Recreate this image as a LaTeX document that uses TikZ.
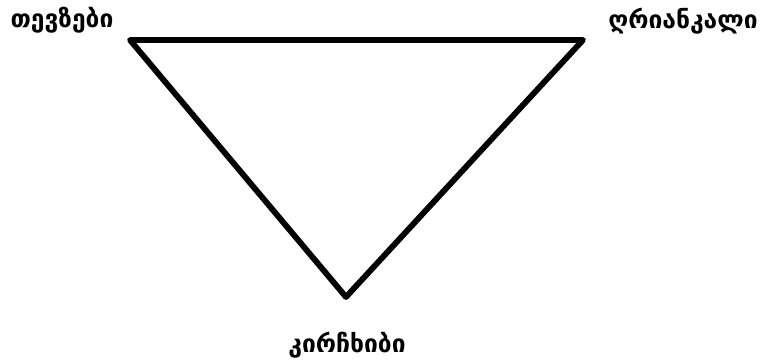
\documentclass[tikz,border=0pt]{standalone}
\usepackage{fontspec}
\newfontfamily\geofont{DejaVu Sans}
\tikzset{
  side/.style={line width=5pt, line join=round, line cap=round},
  sign/.style={font=\geofont\bfseries\fontsize{21}{24}\selectfont, inner sep=0pt}
}
\begin{document}
\begin{tikzpicture}[x=0.03cm, y=0.03cm]
    \useasboundingbox (0,0) rectangle (763,363);
    \coordinate (Fish) at (130,323);
    \coordinate (Scorpion) at (583,323);
    \coordinate (Crab) at (346,66);

    \node[sign] (FishLabel) at (62,343){თევზები};
    \node[sign] (ScorpionLabel) at (683,342){ღრიანკალი};
    \node[sign] (CrabLabel) at (347,18){კირჩხიბი};

    \draw[side] (Fish) -- (Scorpion) -- (Crab) -- cycle;
  \end{tikzpicture}
\end{document}
